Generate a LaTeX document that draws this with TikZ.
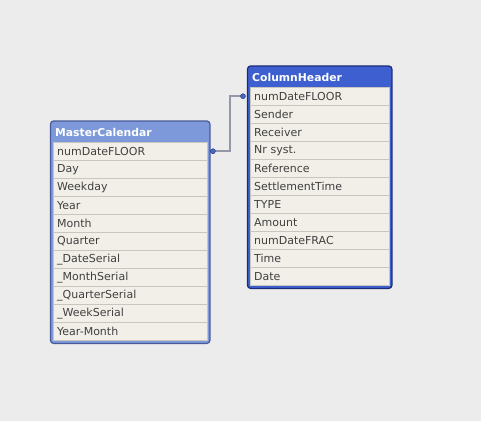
\documentclass[tikz,border=0pt]{standalone}
\usepackage{fontspec}
\setmainfont{DejaVu Sans}
\usepackage{tikz}
\usetikzlibrary{positioning, fit, backgrounds}
\definecolor{CanvasGray}{HTML}{ECECEC}
\definecolor{RowBeige}{HTML}{F1EFE7}
\definecolor{RowLine}{HTML}{C8C7BF}
\definecolor{LightHeader}{HTML}{7D99DA}
\definecolor{LightEdge}{HTML}{4A5A98}
\definecolor{DarkHeader}{HTML}{3D5FCF}
\definecolor{DarkEdge}{HTML}{1C2A78}
\definecolor{LinkGray}{HTML}{9398A8}
\definecolor{PortBlue}{HTML}{4A68C0}
\tikzset{
  % Table parts
  tabletitle/.style={anchor=north west, inner xsep=4pt, inner ysep=0pt, minimum height=20pt, text=white, font=\fontsize{10.8}{12}\selectfont\bfseries},
  rowcell/.style={anchor=north west, rectangle, draw=RowLine, fill=RowBeige, inner xsep=4pt, inner ysep=0pt, minimum height=18pt, align=left, font=\fontsize{11}{13}\selectfont, text=black!75},
  lightframe/.style={rectangle, rounded corners=3pt, fill=LightHeader, draw=LightEdge, line width=1.2pt, inner xsep=2.5pt, inner ysep=1pt},
  darkframe/.style={rectangle, rounded corners=3pt, fill=DarkHeader, draw=DarkEdge, line width=1.2pt, inner xsep=2.5pt, inner ysep=1pt},
  % Connector
  link/.style={draw=LinkGray, line width=1.6pt},
  port/.style={circle, fill=PortBlue, draw=DarkEdge, line width=0.4pt, inner sep=0pt, minimum size=5pt}
}
\begin{document}
\begin{tikzpicture}[x=1pt, y=-1pt]
  \useasboundingbox (0,0) rectangle (481,420);

  % MasterCalendar
  \node[tabletitle] (mtitle) at (51,122) {MasterCalendar};
  \foreach \txt [count=\i] in {numDateFLOOR, Day, Weekday, Year, Month, Quarter, \_DateSerial, \_MonthSerial, \_QuarterSerial, \_WeekSerial, Year-Month}
    \node[rowcell, text width=146pt] (m\i) at (53,{142+18*(\i-1)}) {\txt};

  % ColumnHeader
  \node[tabletitle] (ctitle) at (248,67) {ColumnHeader};
  \foreach \txt [count=\i] in {numDateFLOOR, Sender, Receiver, Nr syst., Reference, SettlementTime, TYPE, Amount, numDateFRAC, Time, Date}
    \node[rowcell, text width=131pt] (c\i) at (250,{87+18*(\i-1)}) {\txt};

  % Canvas and frames
  \coordinate (mfoot) at ([yshift=-2pt]m11.south);
  \coordinate (cfoot) at ([yshift=-2pt]c11.south);
  \begin{scope}[on background layer]
    \fill[CanvasGray] (-1,-1) rectangle (482,421);
    \node[lightframe, fit=(mtitle.north)(m1.west)(m1.east)(mfoot)] (mframe) {};
    \node[darkframe, fit=(ctitle.north)(c1.west)(c1.east)(cfoot)] (cframe) {};
  \end{scope}

  % Key link
  \coordinate (mport) at ([xshift=5.5pt]m1.east);
  \coordinate (cport) at ([xshift=-7pt]c1.west);
  \draw[link] (mport) -- ++(17,0) |- (cport);
  \node[port] at (mport) {};
  \node[port] at (cport) {};
\end{tikzpicture}
\end{document}
